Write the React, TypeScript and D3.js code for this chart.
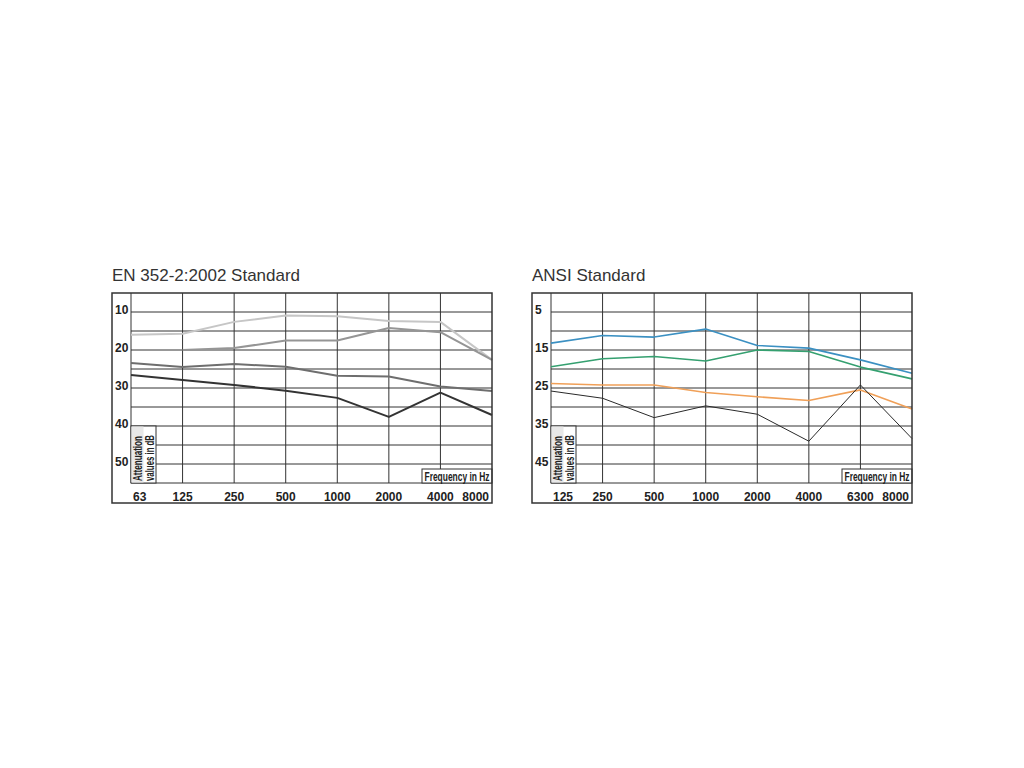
import * as d3 from "d3"

// EN 352-2:2002 chart
const enFrequencies = ["63", "125", "250", "500", "1000", "2000", "4000", "8000"]
const enTicks = [10, 20, 30, 40, 50]
const enSeriesA = [16.0, 15.7, 12.6, 10.9, 11.1, 12.4, 12.6, 22.6]
const enSeriesB = [null, 20.0, 19.5, 17.5, 17.5, 14.2, 15.3, 22.6]
const enSeriesC = [23.4, 24.5, 23.7, 24.4, 26.8, 27.0, 29.6, 30.8]
const enSeriesD = [26.6, 27.9, 29.2, 30.7, 32.6, 37.6, 31.2, 37.1]

// ANSI chart
const ansiFrequencies = ["125", "250", "500", "1000", "2000", "4000", "6300", "8000"]
const ansiTicks = [5, 15, 25, 35, 45]
const ansiBlue = [13.2, 11.2, 11.6, 9.5, 13.8, 14.5, 17.6, 21.1]
const ansiGreen = [19.4, 17.3, 16.7, 17.9, 15.0, 15.4, 19.5, 22.6]
const ansiOrange = [23.8, 24.2, 24.2, 26.2, 27.3, 28.3, 25.5, 30.5]
const ansiBlack = [25.8, 27.7, 32.8, 29.7, 31.9, 39.0, 24.2, 38.3]

type Series = { values: (number | null)[]; color: string; width: number }

const boldFont = "'Liberation Sans Narrow', 'Arial Narrow', 'Liberation Sans', sans-serif"

interface ChartProps {
  left: number
  title: string
  categories: string[]
  ticks: number[]
  domain: [number, number]
  series: Series[]
}

function Chart({ left, title, categories, ticks, domain, series }: ChartProps) {
  const top = 293
  const width = 380
  const bottom = 503
  const plotLeft = left + 19
  const plotRight = left + width
  const plotBottom = 483

  const x = d3.scalePoint<string>().domain(categories).range([plotLeft, plotRight])
  const y = d3.scaleLinear().domain(domain).range([top, plotBottom])
  const gridValues = d3.range(domain[0] + 5, domain[1], 5)

  const line = d3
    .line<number | null>()
    .defined((d) => d !== null)
    .x((_, i) => x(categories[i]) || 0)
    .y((d) => y(d as number))

  const attTop = y(domain[0] + 35)

  return (
    <g>
      <text x={left} y={281} fontFamily="'Liberation Sans', Arial, sans-serif" fontSize={17} fill="#333">
        {title}
      </text>

      {/* horizontal grid */}
      {gridValues.map((v) => (
        <line key={"h" + v} x1={plotLeft} x2={plotRight} y1={y(v)} y2={y(v)} stroke="#333" strokeWidth={1} />
      ))}
      {/* vertical grid */}
      {categories.slice(1, -1).map((c) => (
        <line key={"v" + c} x1={x(c)} x2={x(c)} y1={top} y2={plotBottom} stroke="#333" strokeWidth={1} />
      ))}
      <line x1={plotLeft} x2={plotLeft} y1={top} y2={plotBottom} stroke="#333" strokeWidth={1} />
      <line x1={plotLeft} x2={plotRight} y1={plotBottom} y2={plotBottom} stroke="#333" strokeWidth={1} />

      {/* series */}
      {series.map((s, i) => (
        <path key={i} d={line(s.values) || ""} fill="none" stroke={s.color} strokeWidth={s.width} strokeLinejoin="round" />
      ))}

      {/* attenuation label box */}
      <rect x={plotLeft} y={attTop} width={25} height={plotBottom - attTop} fill="#fff" stroke="#333" strokeWidth={1} />
      <rect x={plotLeft + 0.5} y={attTop + 0.5} width={12} height={plotBottom - attTop - 1} fill="#e8e8e8" />
      <text
        transform={`translate(${plotLeft + 10.5},${plotBottom - 2}) rotate(-90)`}
        fontFamily={boldFont}
        fontWeight="bold"
        fontSize={12}
        fill="#222"
        textLength={45}
        lengthAdjust="spacingAndGlyphs"
      >
        Attenuation
      </text>
      <text
        transform={`translate(${plotLeft + 23},${plotBottom - 2}) rotate(-90)`}
        fontFamily={boldFont}
        fontWeight="bold"
        fontSize={12}
        fill="#222"
        textLength={46}
        lengthAdjust="spacingAndGlyphs"
      >
        values in dB
      </text>

      {/* frequency label box */}
      <rect x={plotRight - 70} y={plotBottom - 14} width={70} height={14} fill="#fff" stroke="#333" strokeWidth={1} />
      <text
        x={plotRight - 35}
        y={plotBottom - 2.5}
        textAnchor="middle"
        fontFamily={boldFont}
        fontWeight="bold"
        fontSize={12}
        fill="#222"
        textLength={65}
        lengthAdjust="spacingAndGlyphs"
      >
        Frequency in Hz
      </text>

      {/* y tick labels */}
      {ticks.map((t) => (
        <text
          key={"y" + t}
          x={left + 3}
          y={y(t) + 2}
          fontFamily={boldFont}
          fontWeight="bold"
          fontSize={12}
          fill="#222"
        >
          {t}
        </text>
      ))}

      {/* x tick labels */}
      {categories.map((c, i) => {
        const first = i === 0
        const last = i === categories.length - 1
        return (
          <text
            key={"x" + c}
            x={first ? (x(c) || 0) + 2 : last ? (x(c) || 0) - 3 : x(c)}
            y={501}
            textAnchor={first ? "start" : last ? "end" : "middle"}
            fontFamily={boldFont}
            fontWeight="bold"
            fontSize={12}
            fill="#222"
          >
            {c}
          </text>
        )
      })}

      {/* outer border */}
      <rect x={left} y={top} width={width} height={bottom - top} fill="none" stroke="#333" strokeWidth={1.5} />
    </g>
  )
}

export default function App() {
  const enSeries: Series[] = [
    { values: enSeriesA, color: "#c6c6c6", width: 2 },
    { values: enSeriesB, color: "#959595", width: 2 },
    { values: enSeriesC, color: "#6e6e6e", width: 2 },
    { values: enSeriesD, color: "#333333", width: 2 },
  ]
  const ansiSeries: Series[] = [
    { values: ansiBlue, color: "#3b90c2", width: 1.6 },
    { values: ansiGreen, color: "#35a070", width: 1.6 },
    { values: ansiOrange, color: "#f0a058", width: 1.6 },
    { values: ansiBlack, color: "#2a2a2a", width: 1 },
  ]

  return (
    <svg width={1024} height={768} style={{ position: "absolute", left: 0, top: 0, background: "#fff" }}>
      <rect width={1024} height={768} fill="#fff" />
      <Chart
        left={112}
        title="EN 352-2:2002 Standard"
        categories={enFrequencies}
        ticks={enTicks}
        domain={[5, 55]}
        series={enSeries}
      />
      <Chart
        left={532}
        title="ANSI Standard"
        categories={ansiFrequencies}
        ticks={ansiTicks}
        domain={[0, 50]}
        series={ansiSeries}
      />
    </svg>
  )
}
